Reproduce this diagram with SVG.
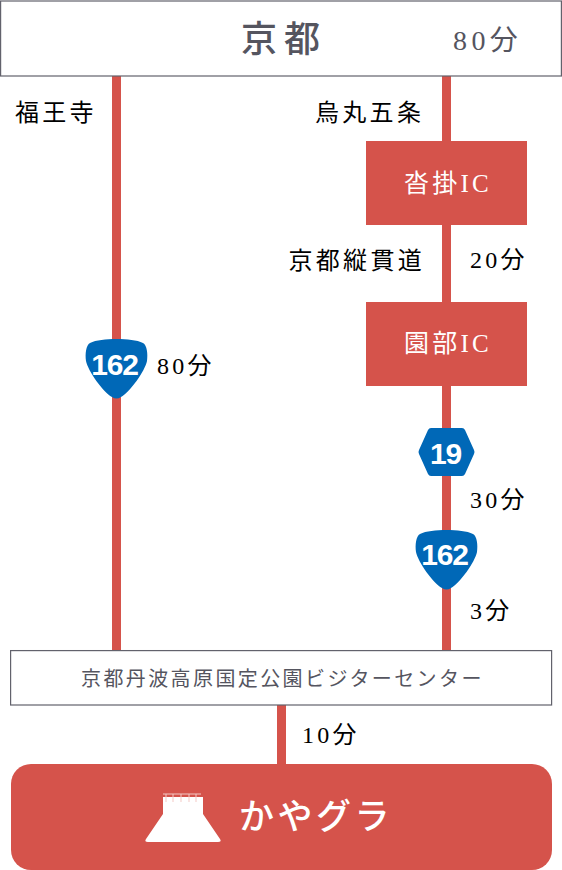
<svg xmlns="http://www.w3.org/2000/svg" width="562" height="870" viewBox="0 0 562 870">
<style>
text{font-family:"Liberation Serif","Noto Sans CJK JP",serif}
.t{font-size:24px;letter-spacing:3.300px;fill:#000}
.w{fill:#fff;font-size:25px;letter-spacing:3.300px;text-anchor:middle}
.box{fill:#fff;stroke:#62626c;stroke-width:1.200}
.red{fill:#d5534b}
.g{fill:#55555f}
.blue{fill:#0068b7}
.n{font-family:"Liberation Sans",sans-serif;font-weight:700;fill:#fff;text-anchor:middle;font-size:30px;letter-spacing:-1.200px}
</style>
<g id="connectors" class="red">
<rect x="112" y="76" width="9" height="575"/>
<rect x="442" y="76" width="9" height="575"/>
<rect x="277" y="705" width="9" height="60"/>
</g>
<g id="kyoto"><rect class="box" x="0.600" y="1" width="560.800" height="75"/>
<text class="g" x="241" y="52" font-size="36" letter-spacing="7" font-weight="500">京都</text>
<text class="g" x="453" y="50" font-size="28" letter-spacing="4.400">80分</text></g>
<text class="t" x="15" y="121">福王寺</text>
<text class="t" x="315" y="121">烏丸五条</text>
<g id="kutsukake"><rect class="red" x="366" y="141" width="161" height="84"/><text class="w" x="448" y="192">沓掛IC</text></g>
<text class="t" x="288.500" y="269">京都縦貫道</text>
<text class="t" x="470" y="268">20分</text>
<g id="sonobe"><rect class="red" x="366" y="302" width="161" height="84"/><text class="w" x="448" y="352">園部IC</text></g>
<g id="r162a"><path class="blue" d="M116.500 339C127 339 137 340 143 343C147 345 148 354 147 361C145 371 130 392 121 397C118 399 115 399 112 397C103 392 88 371 86 361C85 354 86 345 90 343C96 340 106 339 116.500 339Z"/><text class="n" x="114.500" y="375">162</text></g>
<text class="t" x="157" y="374">80分</text>
<g id="r19"><path class="blue" d="M431 428H462Q464 428 465 430L474 450Q475 452 474 454L465 474Q464 476 462 476H431Q429 476 428 474L419 454Q418 452 419 450L428 430Q429 428 431 428Z"/><text class="n" x="445.500" y="464">19</text></g>
<text class="t" x="470" y="508">30分</text>
<g id="r162b"><path class="blue" d="M446.500 530C457 530 467 531 473 534C477 536 478 545 477 552C475 562 460 583 451 588C448 590 445 590 442 588C433 583 418 562 416 552C415 545 416 536 420 534C426 531 436 530 446.500 530Z"/><text class="n" x="444.500" y="565">162</text></g>
<text class="t" x="470" y="619">3分</text>
<g id="center"><rect class="box" x="10.600" y="650.600" width="541" height="54.400"/>
<text class="g" x="81" y="686" font-size="20" letter-spacing="2.400">京都丹波高原国定公園ビジターセンター</text></g>
<text class="t" x="302" y="743">10分</text>
<g id="kayagura"><rect class="red" x="11" y="764" width="541" height="106" rx="20"/>
<path fill="#fff" d="M163 797H203V814L220 839Q222 842 218 842H148Q144 842 146 839L163 814Z"/>
<path fill="none" stroke="#f3c9c5" stroke-width="1" d="M163 794H201M166 794V802M173 794V802M181 794V802M189 794V802M196 794V802"/>
<text x="239" y="829" font-size="35" letter-spacing="3.500" font-weight="500" fill="#fff">かやグラ</text></g>
</svg>
